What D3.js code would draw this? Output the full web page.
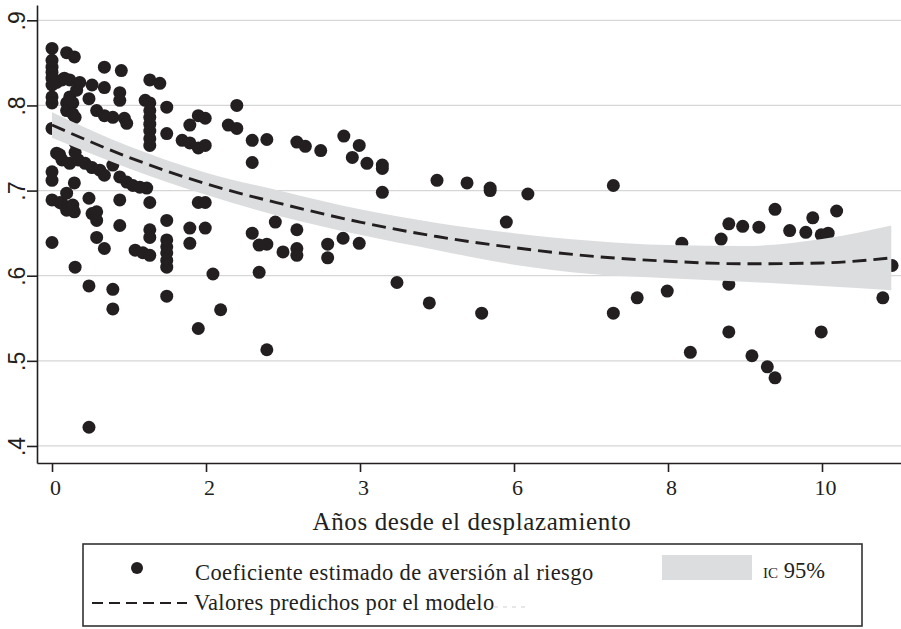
<!DOCTYPE html>
<html>
<head>
<meta charset="utf-8">
<script src="https://cdn.jsdelivr.net/npm/d3@7"></script>
<style>
  body { margin: 0; background: #fff; }
  svg { display: block; }
</style>
</head>
<body>
<div id="chart"></div>
<script>
// tick labels as printed on the original figure
const xTickValues = [0, 2, 4, 6, 8, 10];
const xTickLabels = ["0", "2", "3", "6", "8", "10"];
const yTickValues = [0.4, 0.5, 0.6, 0.7, 0.8, 0.9];
const yTickLabels = [".4", ".5", ".6", ".7", ".8", ".9"];

// fitted curve and 95% band
const fitYears  = [0, 1, 2, 3, 4, 5, 6, 7, 8, 9, 10, 10.9];
const fitValues = [0.777, 0.739, 0.708, 0.684, 0.663, 0.646, 0.633, 0.623, 0.617, 0.614, 0.615, 0.621];
const ciUpper   = [0.792, 0.752, 0.721, 0.699, 0.678, 0.662, 0.650, 0.641, 0.636, 0.635, 0.643, 0.659];
const ciLower   = [0.762, 0.726, 0.695, 0.669, 0.648, 0.630, 0.613, 0.602, 0.597, 0.593, 0.588, 0.583];

// estimated coefficients [years, coefficient]
const coefPoints = [
  [0,0.867],[0,0.853],[0,0.845],[0,0.839],[0,0.832],[0,0.824],[0,0.810],[0,0.803],[0,0.773],[0,0.722],[0,0.712],[0,0.689],[0,0.639],
  [0.06,0.827],[0.06,0.744],[0.10,0.742],[0.10,0.686],[0.13,0.830],[0.13,0.736],[0.13,0.685],[0.16,0.832],
  [0.19,0.862],[0.19,0.803],[0.19,0.794],[0.19,0.697],[0.19,0.677],[0.23,0.830],[0.23,0.810],[0.23,0.732],
  [0.27,0.803],[0.27,0.790],[0.27,0.683],[0.29,0.857],[0.29,0.709],[0.29,0.675],
  [0.30,0.786],[0.30,0.756],[0.30,0.745],[0.30,0.610],[0.32,0.818],[0.34,0.736],[0.36,0.827],[0.43,0.732],
  [0.48,0.808],[0.48,0.691],[0.48,0.588],[0.48,0.422],[0.52,0.824],[0.52,0.727],[0.52,0.673],
  [0.58,0.794],[0.58,0.675],[0.58,0.665],[0.58,0.645],[0.62,0.724],
  [0.68,0.845],[0.68,0.821],[0.68,0.788],[0.68,0.718],[0.68,0.632],
  [0.79,0.786],[0.79,0.730],[0.79,0.584],[0.79,0.561],
  [0.88,0.815],[0.88,0.806],[0.88,0.716],[0.88,0.689],[0.88,0.659],[0.90,0.841],[0.94,0.785],
  [0.97,0.779],[0.97,0.710],[1.05,0.706],[1.08,0.630],[1.14,0.704],[1.18,0.627],[1.21,0.806],[1.23,0.703],
  [1.27,0.830],[1.27,0.803],[1.27,0.794],[1.27,0.786],[1.27,0.778],[1.27,0.770],[1.27,0.761],[1.27,0.753],
  [1.27,0.686],[1.27,0.654],[1.27,0.645],[1.27,0.624],[1.40,0.826],
  [1.49,0.798],[1.49,0.767],[1.49,0.665],[1.49,0.642],[1.49,0.634],[1.49,0.627],[1.49,0.618],[1.49,0.610],[1.49,0.576],
  [1.69,0.759],[1.79,0.777],[1.79,0.756],[1.79,0.656],[1.79,0.638],
  [1.90,0.788],[1.90,0.750],[1.90,0.686],[1.90,0.538],[1.99,0.785],[1.99,0.753],[1.99,0.686],[1.99,0.656],
  [2.09,0.602],[2.19,0.560],[2.29,0.777],[2.40,0.800],[2.40,0.773],
  [2.60,0.759],[2.60,0.733],[2.60,0.650],[2.69,0.636],[2.69,0.604],[2.79,0.760],[2.79,0.637],[2.79,0.513],
  [2.90,0.663],[3.00,0.628],[3.18,0.757],[3.18,0.654],[3.18,0.632],[3.18,0.624],[3.29,0.752],[3.49,0.747],
  [3.58,0.637],[3.58,0.621],[3.78,0.644],[3.79,0.764],[3.90,0.739],[3.99,0.753],[3.99,0.638],[4.09,0.732],
  [4.29,0.730],[4.29,0.726],[4.29,0.698],[4.48,0.592],[4.90,0.568],[5.00,0.712],[5.39,0.709],[5.58,0.556],
  [5.69,0.703],[5.69,0.700],[5.90,0.663],[6.18,0.696],
  [7.29,0.706],[7.29,0.556],[7.60,0.574],[7.99,0.582],[8.18,0.638],[8.29,0.510],[8.69,0.643],
  [8.79,0.661],[8.79,0.590],[8.79,0.534],[8.97,0.658],[9.09,0.506],[9.18,0.657],[9.29,0.493],
  [9.39,0.678],[9.39,0.480],[9.58,0.653],[9.79,0.651],[9.88,0.668],[9.99,0.648],[9.99,0.534],
  [10.08,0.650],[10.19,0.676],[10.79,0.574],[10.91,0.612]
];

const width = 901, height = 629;
const serif = "'Liberation Serif', 'Times New Roman', serif";
const sans = "'Liberation Sans', Arial, sans-serif";
const ink = "#231f20";

const x = d3.scaleLinear().domain([-0.195, 11.026]).range([37, 901]);
const y = d3.scaleLinear().domain([0.38, 0.918]).range([463, 5]);

const svg = d3.select("#chart").append("svg")
    .attr("width", width)
    .attr("height", height);

// horizontal grid
svg.append("g")
  .selectAll("line")
  .data(yTickValues)
  .join("line")
    .attr("x1", 37).attr("x2", width)
    .attr("y1", d => y(d)).attr("y2", d => y(d))
    .attr("stroke", "#d6d6d6")
    .attr("stroke-width", 1.2);

// scatter
svg.append("g")
    .attr("fill", ink)
  .selectAll("circle")
  .data(coefPoints)
  .join("circle")
    .attr("cx", d => x(d[0]))
    .attr("cy", d => y(d[1]))
    .attr("r", 6.5);

// confidence band drawn over the dots, as in the original
const fit = fitYears.map((t, i) => ({t, v: fitValues[i], lo: ciLower[i], hi: ciUpper[i]}));

svg.append("path")
    .datum(fit)
    .attr("fill", "#dcdddf")
    .attr("d", d3.area()
      .x(d => x(d.t))
      .y0(d => y(d.lo))
      .y1(d => y(d.hi))
      .curve(d3.curveMonotoneX));

svg.append("path")
    .datum(fit)
    .attr("fill", "none")
    .attr("stroke", ink)
    .attr("stroke-width", 2.9)
    .attr("stroke-dasharray", "14,7")
    .attr("d", d3.line()
      .x(d => x(d.t))
      .y(d => y(d.v))
      .curve(d3.curveMonotoneX));

// axes
const yAxis = svg.append("g")
    .attr("transform", "translate(37,0)")
    .call(d3.axisLeft(y)
      .tickValues(yTickValues)
      .tickFormat((d, i) => yTickLabels[i])
      .tickSize(10)
      .tickSizeOuter(0));

yAxis.selectAll("text")
    .attr("x", null)
    .attr("dy", null)
    .attr("text-anchor", "middle")
    .attr("transform", "translate(-12,0) rotate(-90)")
    .attr("fill", ink)
    .style("font-family", sans)
    .style("font-size", "23px");

const xAxis = svg.append("g")
    .attr("transform", "translate(0,463)")
    .call(d3.axisBottom(x)
      .tickValues(xTickValues)
      .tickFormat((d, i) => xTickLabels[i])
      .tickSize(9)
      .tickSizeOuter(0));

xAxis.selectAll("text")
    .attr("y", 32)
    .attr("dy", null)
    .attr("dx", 3)
    .attr("fill", ink)
    .style("font-family", serif)
    .style("font-size", "22px");

svg.selectAll(".domain, .tick line")
    .attr("stroke", ink)
    .attr("stroke-width", 1.6);

svg.append("text")
    .attr("x", 472)
    .attr("y", 530)
    .attr("text-anchor", "middle")
    .attr("fill", ink)
    .style("font-family", serif)
    .style("font-size", "25px")
    .style("letter-spacing", "0.6px")
    .text("Años desde el desplazamiento");

// legend
const legend = svg.append("g");

legend.append("rect")
    .attr("x", 83).attr("y", 544)
    .attr("width", 779).attr("height", 82)
    .attr("fill", "#fff")
    .attr("stroke", "#333")
    .attr("stroke-width", 1.6);

legend.append("circle")
    .attr("cx", 137).attr("cy", 568)
    .attr("r", 6)
    .attr("fill", ink);

legend.append("text")
    .attr("x", 195).attr("y", 580)
    .attr("fill", ink)
    .style("font-family", serif)
    .style("font-size", "22.5px")
    .style("letter-spacing", "0.4px")
    .text("Coeficiente estimado de aversión al riesgo");

legend.append("rect")
    .attr("x", 662).attr("y", 555)
    .attr("width", 90).attr("height", 25)
    .attr("fill", "#dcdddf");

const ic = legend.append("text")
    .attr("x", 763).attr("y", 578)
    .attr("fill", ink)
    .style("font-family", serif);
ic.append("tspan").style("font-size", "15px").text("IC");
ic.append("tspan").style("font-size", "22.5px").text(" 95%");

legend.append("line")
    .attr("x1", 92).attr("x2", 187)
    .attr("y1", 603).attr("y2", 603)
    .attr("stroke", ink)
    .attr("stroke-width", 2.2)
    .attr("stroke-dasharray", "11,6");

legend.append("text")
    .attr("x", 194).attr("y", 610)
    .attr("fill", ink)
    .style("font-family", serif)
    .style("font-size", "22.5px")
    .style("letter-spacing", "0.3px")
    .text("Valores predichos por el modelo");

legend.append("line")
    .attr("x1", 494).attr("x2", 530)
    .attr("y1", 607).attr("y2", 607)
    .attr("stroke", "#cfcfcf")
    .attr("stroke-width", 1.2)
    .attr("stroke-dasharray", "4,5");
</script>
</body>
</html>
